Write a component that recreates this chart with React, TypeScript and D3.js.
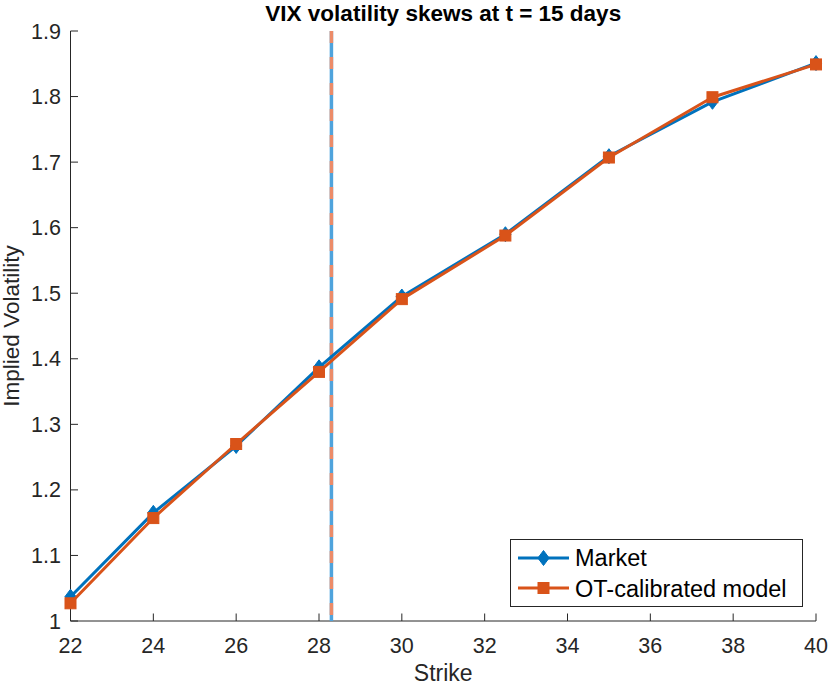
import * as d3 from "d3";

const strikes = [22, 24, 26, 28, 30, 32.5, 35, 37.5, 40];
const marketVol = [1.037, 1.165, 1.267, 1.387, 1.495, 1.590, 1.709, 1.792, 1.851];
const modelVol = [1.027, 1.157, 1.270, 1.380, 1.491, 1.588, 1.707, 1.799, 1.849];
const xTicks = [22, 24, 26, 28, 30, 32, 34, 36, 38, 40];
const yTicks = [1, 1.1, 1.2, 1.3, 1.4, 1.5, 1.6, 1.7, 1.8, 1.9];
const forwardStrike = 28.3;

const W = 830;
const H = 686;
const margin = { top: 31, right: 14, bottom: 65, left: 70.5 };
const FONT = "'Liberation Sans', Arial, Helvetica, sans-serif";
const AXIS = "#262626";
const BLUE = "#0072BD";
const ORANGE = "#D95319";

function Diamond({ x, y, s = 7.5 }: { x: number; y: number; s?: number }) {
  return (
    <path
      d={`M${x},${y - s}L${x + s * 0.75},${y}L${x},${y + s}L${x - s * 0.75},${y}Z`}
      fill={BLUE}
      stroke={BLUE}
      strokeWidth={1}
    />
  );
}

function Square({ x, y, s = 5.5 }: { x: number; y: number; s?: number }) {
  return (
    <rect x={x - s} y={y - s} width={2 * s} height={2 * s} fill={ORANGE} stroke={ORANGE} strokeWidth={1} />
  );
}

export default function App() {
  const x = d3.scaleLinear().domain([22, 40]).range([margin.left, W - margin.right]);
  const y = d3.scaleLinear().domain([1, 1.9]).range([H - margin.bottom, margin.top]);

  const line = d3
    .line<number>()
    .x((_, i) => x(strikes[i]))
    .y((d) => y(d));

  const x0 = x(22);
  const x1 = x(40);
  const y0 = y(1);
  const y1 = y(1.9);
  const tickLen = 7.5;

  const lg = { x: 510.5, y: 539.5, w: 292, h: 67 };

  return (
    <svg width={W} height={H} style={{ position: "absolute", left: 0, top: 0, background: "#fff" }} fontFamily={FONT}>
      <rect width={W} height={H} fill="#fff" />

      {/* axes */}
      <g stroke={AXIS} strokeWidth={1} fill="none">
        <line x1={x0} y1={y0} x2={x1} y2={y0} />
        <line x1={x0} y1={y0} x2={x0} y2={y1} />
        {xTicks.map((t) => (
          <line key={`xt${t}`} x1={x(t)} x2={x(t)} y1={y0} y2={y0 - tickLen} />
        ))}
        {yTicks.map((t) => (
          <line key={`yt${t}`} x1={x0} x2={x0 + tickLen} y1={y(t)} y2={y(t)} />
        ))}
      </g>
      <g fill={AXIS} fontSize={21.5}>
        {xTicks.map((t) => (
          <text key={`xl${t}`} x={x(t)} y={y0 + 32} textAnchor="middle">
            {t}
          </text>
        ))}
        {yTicks.map((t) => (
          <text key={`yl${t}`} x={x0 - 9.5} y={y(t) + 7.5} textAnchor="end">
            {d3.format("~g")(t)}
          </text>
        ))}
      </g>

      {/* vertical reference line */}
      <line x1={x(forwardStrike)} x2={x(forwardStrike)} y1={y1} y2={y0} stroke="#4FA3DC" strokeWidth={3.5} />
      <line
        x1={x(forwardStrike)}
        x2={x(forwardStrike)}
        y1={y1}
        y2={y0}
        stroke="#EC8B68"
        strokeWidth={3.5}
        strokeDasharray="12 14"
      />

      {/* series */}
      <path d={line(marketVol) ?? ""} fill="none" stroke={BLUE} strokeWidth={3} strokeLinejoin="round" />
      {marketVol.map((v, i) => (
        <Diamond key={`m${i}`} x={x(strikes[i])} y={y(v)} />
      ))}
      <path d={line(modelVol) ?? ""} fill="none" stroke={ORANGE} strokeWidth={3} strokeLinejoin="round" />
      {modelVol.map((v, i) => (
        <Square key={`o${i}`} x={x(strikes[i])} y={y(v)} />
      ))}

      {/* title and labels */}
      <text x={(x0 + x1) / 2} y={20.5} textAnchor="middle" fontSize={22.5} fontWeight="bold" fill="#000">
        VIX volatility skews at t = 15 days
      </text>
      <text x={(x0 + x1) / 2} y={680.5} textAnchor="middle" fontSize={23} fill={AXIS}>
        Strike
      </text>
      <text
        transform={`translate(18.5,${(y0 + y1) / 2}) rotate(-90)`}
        textAnchor="middle"
        fontSize={22.5}
        fill={AXIS}
      >
        Implied Volatility
      </text>

      {/* legend */}
      <rect x={lg.x} y={lg.y} width={lg.w} height={lg.h} fill="#fff" stroke="#262626" strokeWidth={1} />
      <line x1={518} x2={569} y1={558} y2={558} stroke={BLUE} strokeWidth={3} />
      <Diamond x={543.5} y={558} />
      <line x1={518} x2={569} y1={588} y2={588} stroke={ORANGE} strokeWidth={3} />
      <Square x={543.5} y={588} />
      <text x={575} y={566} fontSize={23.5} fill="#000">
        Market
      </text>
      <text x={575} y={597} fontSize={23.5} fill="#000">
        OT-calibrated model
      </text>
    </svg>
  );
}
